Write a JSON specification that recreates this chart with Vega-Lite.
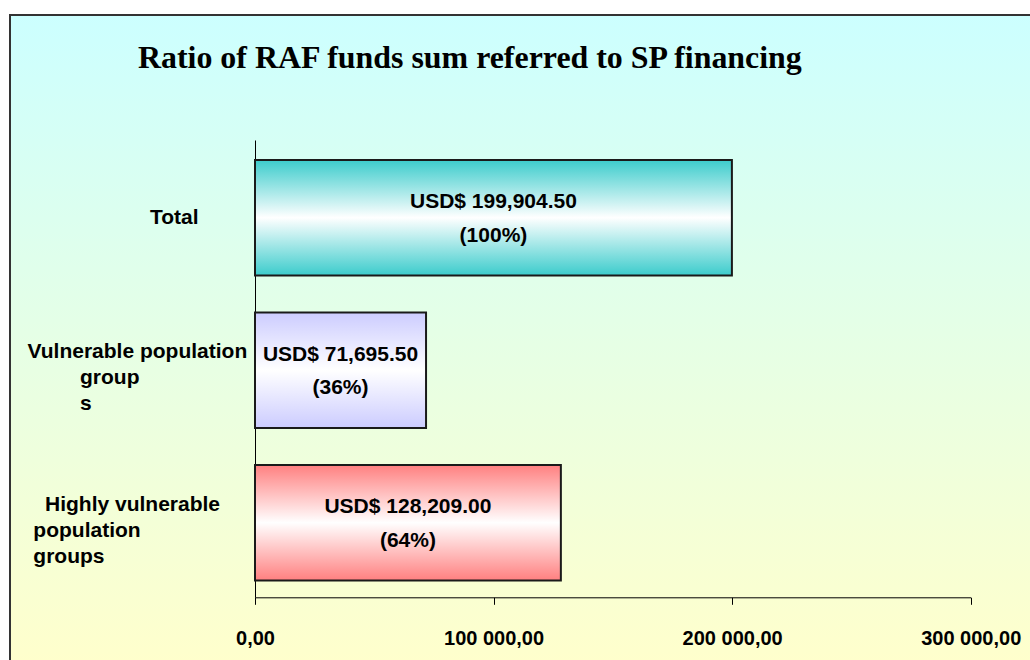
{
  "$schema": "https://vega.github.io/schema/vega-lite/v6.json",
  "autosize": "none",
  "padding": {"left": 10, "top": 15, "right": -3, "bottom": -3},
  "width": 1023,
  "height": 648,
  "background": "white",
  "title": {
    "text": "Ratio of RAF funds sum referred to SP financing",
    "anchor": "start",
    "frame": "group",
    "font": "Liberation Serif",
    "fontSize": 31.9,
    "fontWeight": "bold",
    "color": "black",
    "baseline": "alphabetic",
    "offset": 0,
    "dx": 128,
    "dy": 85
  },
  "config": {
    "view": {
      "fill": {"gradient": "linear", "x1": 0, "y1": 0, "x2": 0, "y2": 1,
        "stops": [{"offset": 0, "color": "#ccffff"}, {"offset": 1, "color": "#ffffcc"}]},
      "stroke": "#333333",
      "strokeWidth": 2
    }
  },
  "data": {
    "values": [
      {"cat": "Total", "value": 199904.5, "label": "USD$ 199,904.50\n(100%)"},
      {"cat": "Vulnerable population groups", "value": 71695.5, "label": "USD$ 71,695.50\n(36%)"},
      {"cat": "Highly vulnerable population groups", "value": 128209, "label": "USD$ 128,209.00\n(64%)"}
    ]
  },
  "encoding": {
    "y": {
      "field": "cat",
      "type": "nominal",
      "sort": ["Total", "Vulnerable population groups", "Highly vulnerable population groups"],
      "scale": {"paddingInner": 0.243, "paddingOuter": 0.746, "align": 0.637},
      "axis": {
        "orient": "left",
        "offset": -245,
        "title": null,
        "domain": false,
        "ticks": false,
        "tickSize": 0,
        "grid": false,
        "labelAlign": "left",
        "labelBaseline": "middle",
        "labelPadding": 228,
        "labelLimit": 400,
        "labelFont": "Liberation Sans",
        "labelFontSize": 21,
        "labelFontWeight": "bold",
        "labelColor": "black",
        "labelLineHeight": 26,
        "labelOffset": {"condition": {"test": "datum.value === 'Total'", "value": 0}, "value": -18},
        "labelExpr": "datum.value === 'Total' ? '\u200b\u00a0\u00a0\u00a0\u00a0\u00a0\u00a0\u00a0\u00a0\u00a0\u00a0\u00a0\u00a0\u00a0\u00a0\u00a0\u00a0\u00a0\u00a0\u00a0\u00a0\u00a0Total' : datum.value === 'Vulnerable population groups' ? ['Vulnerable population', '\u200b\u00a0\u00a0\u00a0\u00a0\u00a0\u00a0\u00a0\u00a0\u00a0group', '\u200b\u00a0\u00a0\u00a0\u00a0\u00a0\u00a0\u00a0\u00a0\u00a0s'] : ['\u200b\u00a0\u00a0\u00a0Highly vulnerable', '\u200b\u00a0population', '\u200b\u00a0groups']"
      }
    }
  },
  "layer": [
    {
      "transform": [{"filter": "datum.cat === 'Total'"}],
      "mark": {"type": "bar", "stroke": "#1a1a1a", "strokeWidth": 2,
        "fill": {"gradient": "linear", "x1": 0, "y1": 0, "x2": 0, "y2": 1,
          "stops": [{"offset": 0, "color": "#3ccccc"}, {"offset": 0.5, "color": "#ffffff"}, {"offset": 1, "color": "#3ccccc"}]}},
      "encoding": {
        "x": {
          "field": "value", "type": "quantitative",
          "scale": {"domain": [0, 300000], "nice": false, "rangeMin": 245, "rangeMax": 960.7},
          "axis": {
            "orient": "bottom",
            "offset": -65.7,
            "values": [0, 100000, 200000, 300000],
            "title": null,
            "grid": false,
            "domain": true,
            "domainColor": "black",
            "domainWidth": 1,
            "ticks": true,
            "tickSize": 7,
            "tickColor": "black",
            "tickWidth": 1,
            "labelFont": "Liberation Sans",
            "labelFontSize": 20,
            "labelFontWeight": "bold",
            "labelColor": "black",
            "labelPadding": 24,
            "labelFlush": false,
            "labelOverlap": false,
            "labelExpr": "replace(replace(format(datum.value, ',.2f'), ',', ' '), '.', ',')"
          }
        }
      }
    },
    {
      "transform": [{"filter": "datum.cat === 'Vulnerable population groups'"}],
      "mark": {"type": "bar", "stroke": "#1a1a1a", "strokeWidth": 2,
        "fill": {"gradient": "linear", "x1": 0, "y1": 0, "x2": 0, "y2": 1,
          "stops": [{"offset": 0, "color": "#ccccff"}, {"offset": 0.5, "color": "#ffffff"}, {"offset": 1, "color": "#ccccff"}]}},
      "encoding": {
        "x": {
          "field": "value", "type": "quantitative",
          "scale": {"domain": [0, 300000], "nice": false, "rangeMin": 245, "rangeMax": 960.7},
          "axis": {
            "orient": "bottom",
            "offset": -65.7,
            "values": [0],
            "title": null,
            "grid": false,
            "domain": false,
            "ticks": true,
            "tickSize": -457.3,
            "tickColor": "black",
            "tickWidth": 1,
            "labels": false
          }
        }
      }
    },
    {
      "transform": [{"filter": "datum.cat === 'Highly vulnerable population groups'"}],
      "mark": {"type": "bar", "stroke": "#1a1a1a", "strokeWidth": 2,
        "fill": {"gradient": "linear", "x1": 0, "y1": 0, "x2": 0, "y2": 1,
          "stops": [{"offset": 0, "color": "#ff8080"}, {"offset": 0.5, "color": "#ffffff"}, {"offset": 1, "color": "#ff8080"}]}},
      "encoding": {
        "x": {
          "field": "value", "type": "quantitative",
          "scale": {"domain": [0, 300000], "nice": false, "rangeMin": 245, "rangeMax": 960.7},
          "axis": null
        }
      }
    },
    {
      "mark": {"type": "text", "font": "Liberation Sans", "fontSize": 21, "fontWeight": "bold",
        "lineBreak": "\n", "lineHeight": 33.5, "align": "center", "baseline": "middle", "dy": -15.5, "color": "black"},
      "encoding": {
        "x": {
          "field": "value", "type": "quantitative",
          "scale": {"domain": [0, 600000], "nice": false, "rangeMin": 245, "rangeMax": 960.7},
          "axis": null
        },
        "text": {"field": "label"}
      }
    }
  ],
  "resolve": {"scale": {"x": "independent"}, "axis": {"x": "independent"}}
}
